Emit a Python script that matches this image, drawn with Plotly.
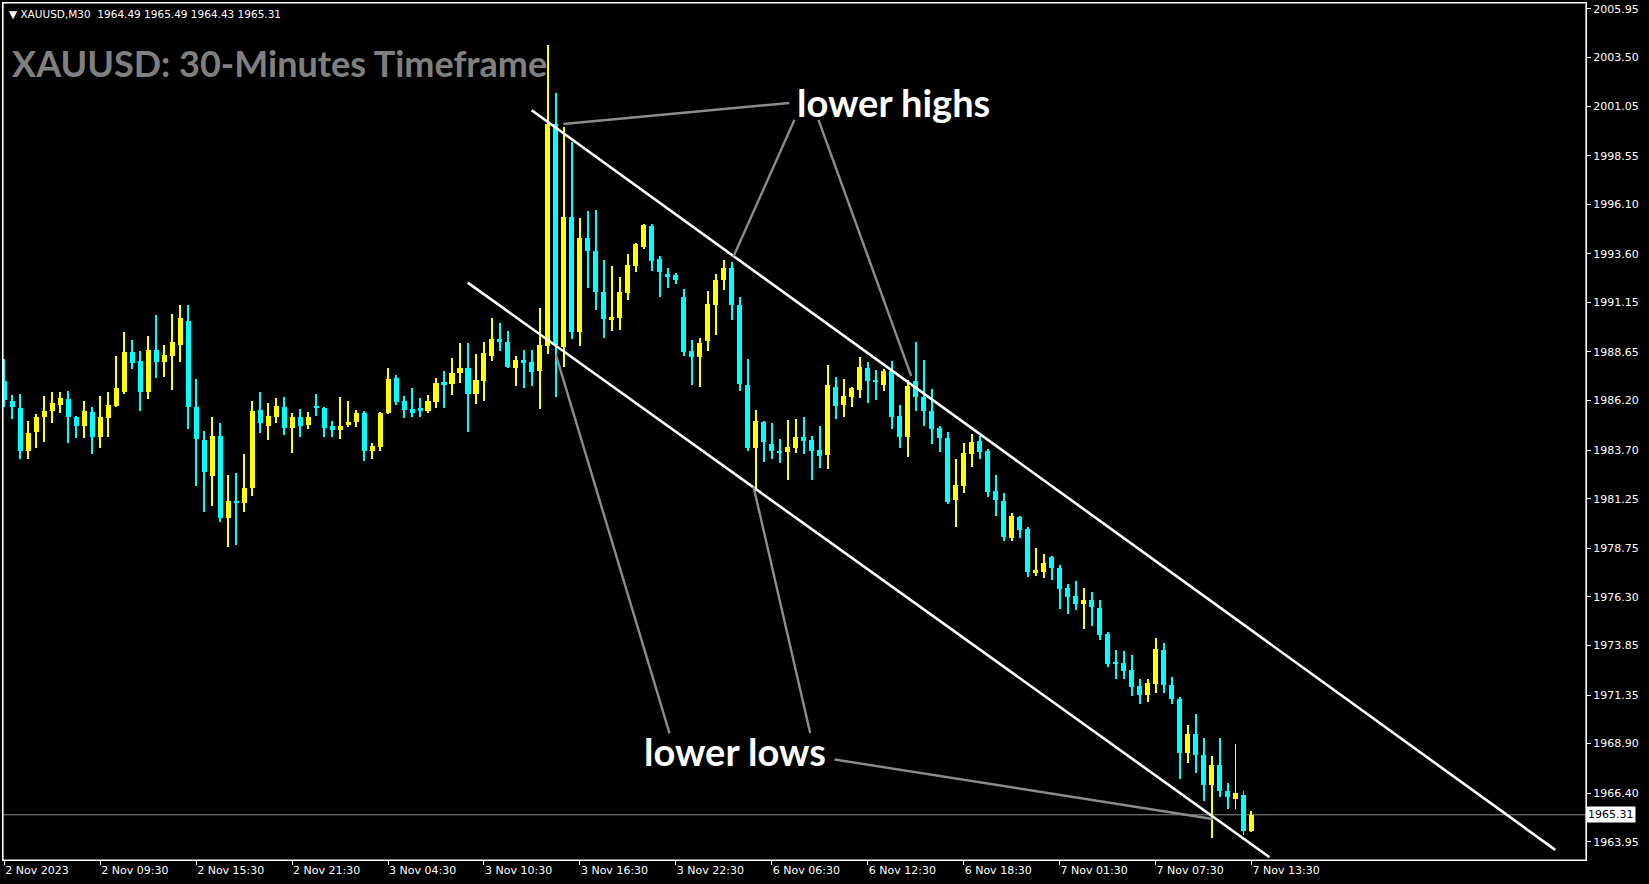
import plotly.graph_objects as go

# ---- data (bar index 0..156, 30-minute bars) ----
opens = [1987.2,1986.2,1985.84,1983.68,1984.6,1985.36,1985.66,1985.99,1986.3,1985.36,
         1984.9,1985.64,1984.35,1985.31,1985.93,1986.65,1988.66,1988.21,1986.62,1988.77,
         1988.13,1988.46,1989.0,1990.23,1985.89,1984.23,1982.42,1984.4,1980.28,1981.16,
         1981.03,1981.8,1985.74,1984.94,1985.39,1985.89,1984.8,1985.36,1984.99,1985.94,
         1985.84,1984.9,1984.74,1984.97,1985.14,1985.59,1983.64,1983.85,1985.56,1987.32,
         1986.16,1985.76,1985.81,1985.69,1986.11,1987.12,1987.04,1987.57,1987.84,1986.53,
         1987.17,1988.43,1989.3,1989.17,1987.82,1988.25,1988.16,1987.68,1988.97,2000.17,
         1988.92,1995.47,1989.64,1994.38,1993.72,1991.69,1990.26,1990.35,1991.61,1993.0,
         1993.96,1995.01,1993.33,1992.58,1992.54,1991.44,1988.72,1988.41,1989.19,1991.0,
         1992.3,1992.9,1991.0,1987.0,1983.8,1985.14,1984.01,1983.68,1983.59,1983.8,
         1984.38,1984.22,1983.71,1983.43,1986.9,1986.0,1986.4,1986.75,1987.84,1987.25,
         1986.99,1987.71,1985.44,1984.35,1987.2,1986.4,1985.69,1984.82,1984.32,1981.2,
         1981.88,1983.51,1984.18,1983.65,1981.63,1981.16,1979.28,1980.32,1979.74,1977.5,
         1977.55,1978.31,1977.77,1976.76,1976.33,1975.96,1976.16,1975.76,1974.45,1973.02,
         1972.97,1972.6,1971.81,1971.37,1971.93,1973.61,1971.84,1971.17,1968.44,1969.38,
         1968.35,1966.8,1967.8,1966.5,1966.1,1966.3,1964.49]
highs = [1988.3,1986.5,1986.53,1985.19,1985.52,1986.45,1986.62,1986.65,1986.7,1985.42,
         1986.2,1985.86,1986.45,1986.65,1988.46,1989.67,1989.27,1988.7,1989.47,1990.51,
         1989.02,1990.59,1991.0,1991.03,1987.29,1984.68,1985.36,1985.09,1982.47,1982.54,
         1983.51,1986.2,1986.65,1986.1,1986.31,1986.37,1985.59,1985.78,1985.64,1986.53,
         1985.89,1985.19,1986.37,1986.2,1985.73,1985.69,1984.05,1985.61,1987.84,1987.5,
         1986.45,1986.83,1986.31,1986.5,1987.34,1987.71,1988.34,1989.08,1989.12,1988.55,
         1989.15,1990.36,1990.11,1989.69,1988.43,1988.77,1988.77,1990.85,2004.13,2001.73,
         2000.0,1999.22,1995.4,1995.77,1995.82,1993.28,1992.99,1992.41,1993.59,1994.17,
         1995.13,1995.1,1993.5,1992.88,1992.61,1991.82,1989.25,1989.35,1991.74,1992.6,
         1993.3,1993.2,1991.4,1988.3,1985.74,1985.19,1985.07,1984.27,1985.22,1985.27,
         1985.36,1984.43,1984.94,1988.01,1987.37,1987.29,1986.9,1988.41,1988.13,1987.74,
         1987.79,1988.21,1985.99,1987.24,1989.17,1988.25,1986.78,1984.94,1984.6,1983.26,
         1984.07,1984.52,1984.39,1983.77,1982.47,1981.55,1980.54,1980.36,1979.82,1978.76,
         1978.48,1978.36,1977.89,1976.97,1977.08,1976.76,1976.55,1976.16,1974.53,1973.64,
         1973.56,1973.36,1972.18,1972.18,1974.25,1973.99,1972.26,1971.26,1969.83,1970.38,
         1969.16,1968.3,1969.2,1966.9,1968.9,1966.5,1965.49]
lows = [1985.89,1985.27,1983.26,1983.26,1983.8,1984.13,1985.05,1985.56,1984.08,1984.3,
        1984.3,1983.51,1983.8,1984.35,1985.89,1986.51,1987.77,1985.66,1986.26,1987.32,
        1987.37,1986.73,1988.13,1984.75,1981.9,1980.57,1980.87,1980.07,1978.8,1978.9,
        1980.57,1981.41,1984.55,1984.23,1985.05,1984.48,1983.54,1984.35,1984.77,1985.41,
        1984.35,1984.35,1984.25,1984.85,1984.85,1983.17,1983.26,1983.64,1985.52,1985.98,
        1985.31,1985.39,1985.39,1985.56,1985.81,1985.81,1986.5,1987.07,1984.6,1986.03,
        1986.16,1988.21,1988.71,1987.82,1986.95,1986.82,1986.92,1985.75,1988.55,1986.4,
        1987.9,1989.3,1988.97,1991.86,1990.77,1989.35,1989.72,1989.77,1991.27,1992.66,
        1993.84,1992.71,1991.4,1991.87,1992.07,1988.47,1987.0,1986.87,1988.68,1989.52,
        1991.8,1990.26,1986.67,1983.68,1981.66,1983.09,1983.26,1983.04,1982.2,1983.54,
        1983.51,1982.2,1982.8,1982.75,1985.27,1985.36,1985.86,1986.33,1986.06,1986.23,
        1986.7,1984.77,1983.81,1983.34,1985.69,1984.94,1984.01,1983.59,1980.99,1979.82,
        1981.53,1982.84,1983.26,1981.36,1980.36,1979.11,1979.11,1979.28,1977.3,1977.33,
        1977.27,1977.17,1975.71,1975.45,1975.66,1974.7,1974.82,1974.15,1972.77,1972.18,
        1972.18,1971.29,1970.92,1971.0,1971.43,1971.46,1970.92,1967.14,1967.93,1967.4,
        1966.02,1964.12,1966.2,1965.6,1965.6,1964.3,1964.43]
closes = [1986.23,1985.86,1983.68,1984.58,1985.36,1985.69,1986.06,1986.31,1985.36,1984.9,
          1985.69,1984.35,1985.39,1986.0,1986.85,1988.66,1988.08,1986.62,1988.77,1988.13,
          1988.51,1989.17,1990.38,1985.86,1984.25,1982.59,1984.4,1980.28,1981.16,1981.03,
          1981.81,1985.69,1985.05,1985.44,1985.94,1984.8,1985.36,1984.94,1985.36,1985.81,
          1984.8,1984.74,1984.94,1985.14,1985.59,1983.68,1983.9,1985.56,1987.3,1986.11,
          1985.71,1985.59,1985.69,1986.16,1987.07,1987.02,1987.61,1987.84,1986.53,1987.24,
          1988.61,1989.3,1989.13,1987.87,1988.24,1988.11,1987.63,1989.02,2000.14,1989.0,
          1995.47,1989.64,1994.38,1993.72,1991.66,1990.31,1990.4,1991.69,1993.05,1994.12,
          1995.05,1993.25,1992.66,1992.44,1992.29,1988.63,1988.38,1989.1,1991.07,1992.3,
          1992.9,1991.0,1987.04,1983.8,1985.19,1984.1,1983.64,1983.54,1983.88,1984.38,
          1984.18,1983.64,1983.39,1987.0,1985.94,1986.45,1986.82,1987.91,1987.2,1987.12,
          1987.71,1985.39,1984.35,1986.95,1986.36,1985.66,1984.77,1984.32,1981.08,1981.95,
          1983.55,1984.13,1983.63,1981.58,1981.2,1979.32,1980.36,1979.69,1977.55,1977.64,
          1978.02,1977.77,1976.71,1976.29,1975.96,1976.16,1975.79,1974.36,1972.9,1972.9,
          1972.55,1971.76,1971.37,1971.98,1973.69,1971.84,1971.17,1968.44,1969.38,1968.32,
          1966.81,1967.8,1966.5,1966.2,1966.4,1964.49,1965.31]

tick_bars = [0, 12, 24, 36, 48, 60, 72, 84, 96, 108, 120, 132, 144, 156]
tick_labels = ["2 Nov 2023", "2 Nov 09:30", "2 Nov 15:30", "2 Nov 21:30", "3 Nov 04:30",
               "3 Nov 10:30", "3 Nov 16:30", "3 Nov 22:30", "6 Nov 06:30", "6 Nov 12:30",
               "6 Nov 18:30", "7 Nov 01:30", "7 Nov 07:30", "7 Nov 13:30"]
price_ticks = [2005.95, 2003.50, 2001.05, 1998.55, 1996.10, 1993.60, 1991.15, 1988.65,
               1986.20, 1983.70, 1981.25, 1978.75, 1976.30, 1973.85, 1971.35, 1968.90,
               1966.40, 1963.95]
last_price = 1965.31

# channel lines (bar index, price)
upper_channel = [(65.96, 2000.84), (194.0, 1963.54)]
lower_channel = [(57.96, 1992.15), (158.26, 1963.17)]
# pointer lines from labels
highs_pointers = [[(98.19, 2001.21), (69.93, 2000.15)],
                  [(98.84, 2000.36), (91.21, 1993.47)],
                  [(101.84, 2000.36), (113.44, 1987.43)]]
lows_pointers = [[(83.21, 1969.42), (69.0, 1988.5)],
                 [(100.81, 1969.42), (93.71, 1981.87)],
                 [(103.84, 1968.1), (151.16, 1965.1)]]

UP = "#FFFF00"
DOWN = "#00FFFF"

idx = list(range(len(opens)))
colors = [UP if c >= o else DOWN for o, c in zip(opens, closes)]
wick_len = [h - l for h, l in zip(highs, lows)]
body_base = [min(o, c) for o, c in zip(opens, closes)]
body_len = [max(abs(c - o), 0.06) for o, c in zip(opens, closes)]

fig = go.Figure()
fig.add_trace(go.Bar(x=idx, y=wick_len, base=lows, width=0.125,
                     marker=dict(color=colors, line=dict(width=0)),
                     hoverinfo="skip", showlegend=False))
fig.add_trace(go.Bar(x=idx, y=body_len, base=body_base, width=0.63,
                     marker=dict(color=colors, line=dict(width=0)),
                     hoverinfo="skip", showlegend=False))

shapes = []
shapes.append(dict(type="line", xref="paper", yref="y", x0=0, x1=1,
                   y0=last_price, y1=last_price, line=dict(color="#8a8a8a", width=1),
                   layer="below"))
for seg in (upper_channel, lower_channel):
    shapes.append(dict(type="line", xref="x", yref="y", x0=seg[0][0], y0=seg[0][1],
                       x1=seg[1][0], y1=seg[1][1], line=dict(color="white", width=2.6)))
for seg in highs_pointers + lows_pointers:
    shapes.append(dict(type="line", xref="x", yref="y", x0=seg[0][0], y0=seg[0][1],
                       x1=seg[1][0], y1=seg[1][1], line=dict(color="#8c8c8c", width=2.4)))
# plot frame
shapes.append(dict(type="rect", xref="paper", yref="paper", x0=0, x1=1, y0=0, y1=1,
                   line=dict(color="white", width=1.2), fillcolor="rgba(0,0,0,0)",
                   layer="above"))

annotations = [
    dict(text="\u25BC XAUUSD,M30  1964.49 1965.49 1964.43 1965.31", xref="paper", yref="paper",
         x=0.0025, y=0.987, xanchor="left", yanchor="middle", showarrow=False,
         font=dict(family="DejaVu Sans", size=10.5, color="white")),
    dict(text="<b>XAUUSD: 30-Minutes Timeframe</b>", xref="paper", yref="paper",
         x=0.0044, y=0.9300, xanchor="left", yanchor="middle", showarrow=False,
         font=dict(family="Lato", size=36, color="#808080")),
    dict(text="<b>lower highs</b>", xref="paper", yref="paper",
         x=0.5, y=0.8846, xanchor="left", yanchor="middle", showarrow=False,
         font=dict(family="Lato", size=38, color="white")),
    dict(text="<b>lower lows</b>", xref="paper", yref="paper",
         x=0.4037, y=0.127, xanchor="left", yanchor="middle", showarrow=False,
         font=dict(family="Lato", size=38, color="white")),
    dict(text=f"{last_price:.2f}", xref="paper", yref="y", x=1.0, y=last_price,
         xanchor="left", yanchor="middle", showarrow=False, bgcolor="white",
         borderpad=1, font=dict(family="DejaVu Sans", size=11, color="black")),
]

fig.update_layout(
    width=1649, height=884,
    margin=dict(l=3, r=63, t=3, b=24),
    paper_bgcolor="black", plot_bgcolor="black",
    barmode="overlay", bargap=0,
    shapes=shapes, annotations=annotations,
    xaxis=dict(range=[-0.16, 197.84], showgrid=False, zeroline=False,
               showline=True, linecolor="white", linewidth=1, mirror=True,
               ticks="outside", ticklen=4, tickcolor="white",
               tickvals=tick_bars, ticktext=tick_labels,
               ticklabelposition="outside right",
               tickfont=dict(family="DejaVu Sans", size=11, color="white")),
    yaxis=dict(range=[1963.03, 2006.25], side="right", showgrid=False, zeroline=False,
               showline=True, linecolor="white", linewidth=1, mirror=True,
               ticks="outside", ticklen=4, tickcolor="white",
               tickvals=price_ticks, ticktext=[f"{v:.2f}" for v in price_ticks],
               tickfont=dict(family="DejaVu Sans", size=11, color="white")),
)

fig.write_html("out.html", config={"displayModeBar": False},
               post_script="document.body.style.margin='0';document.body.style.background='black';")
